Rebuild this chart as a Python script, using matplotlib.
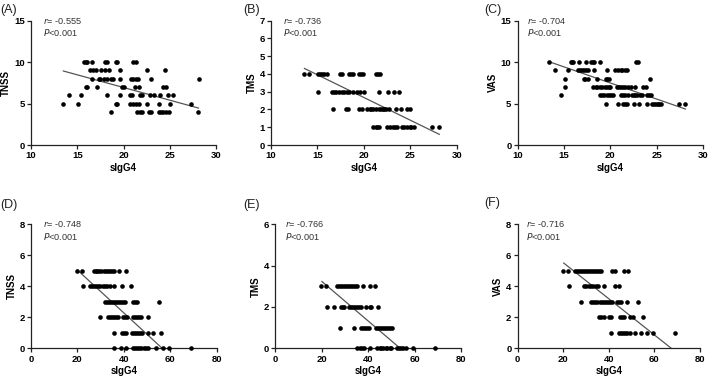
import numpy as np
import matplotlib
matplotlib.use('Agg')
import matplotlib.pyplot as plt

plt.rcParams['font.family'] = ['Liberation Sans', 'DejaVu Sans']

# top row: sIgG4 10-30, bottom row: sIgG4 0-80
# points grouped by score level (x values)
a_levels = [10, 9, 8, 7, 6, 5, 4]
a_x = [[15.7, 15.95, 16.1, 16.6, 18.0, 18.2, 19.15, 19.3, 21.06, 21.3],
       [16.4, 16.7, 17.0, 17.6, 18.0, 18.4, 19.6, 22.5, 24.45],
       [16.6, 17.3, 17.5, 17.9, 18.2, 18.6, 18.9, 19.6, 20.8, 21.06, 21.3, 21.6, 23.0, 28.2],
       [15.9, 16.1, 17.1, 19.8, 20.1, 21.2, 21.7, 24.3, 24.6],
       [14.1, 15.4, 18.25, 19.6, 20.7, 20.9, 21.8, 22.0, 22.9, 23.3, 23.9, 24.8, 25.3],
       [13.5, 15.1, 19.15, 19.3, 20.7, 21.06, 21.3, 21.7, 22.5, 23.8, 25.0, 27.3],
       [18.7, 21.5, 21.75, 22.0, 22.8, 23.0, 23.8, 24.0, 24.3, 24.6, 24.95, 28.1]]
a_fit_x = [13.5, 28.1]
a_fit_y = [8.93, 4.46]

b_levels = [4, 3, 2, 1]
b_x = [[13.5, 14.1, 15.05, 15.3, 15.5, 15.7, 15.99, 17.4, 17.6, 18.35, 18.6, 18.8, 19.5, 19.7, 19.9, 21.3, 21.5, 21.7],
       [15.1, 16.6, 16.8, 17.0, 17.35, 17.6, 17.9, 18.2, 18.4, 18.85, 19.25, 19.6, 20.0, 21.65, 22.6, 23.2, 23.8],
       [16.7, 18.05, 18.25, 19.5, 19.8, 20.3, 20.6, 20.8, 21.0, 21.3, 21.6, 21.8, 22.0, 22.2, 22.4, 22.7, 23.4, 24.0, 24.6, 24.9],
       [21.0, 21.25, 21.45, 21.65, 22.5, 22.8, 23.1, 23.3, 23.6, 24.05, 24.3, 24.6, 24.9, 25.1, 25.4, 27.3, 28.1]]
b_fit_x = [13.6, 28.1]
b_fit_y = [4.31, 0.6]

c_levels = [10, 9, 8, 7, 6, 5]
c_x = [[13.4, 15.7, 15.85, 16.0, 16.6, 17.4, 17.95, 18.1, 18.25, 18.85, 22.8, 22.95],
       [14.0, 15.4, 16.5, 16.7, 16.9, 17.2, 17.4, 17.6, 18.25, 19.6, 20.5, 20.8, 21.1, 21.3, 21.6, 21.8],
       [15.05, 17.1, 17.3, 17.6, 18.6, 19.5, 19.6, 19.9, 24.3],
       [15.1, 18.1, 18.4, 18.6, 18.9, 19.1, 19.4, 19.6, 19.8, 20.0, 20.7, 20.9, 21.1, 21.4, 21.6, 21.9, 22.2, 22.7, 23.5, 23.8],
       [14.7, 18.85, 19.1, 19.35, 19.6, 19.8, 20.1, 20.3, 21.2, 21.4, 21.6, 21.9, 22.3, 22.5, 22.7, 22.9, 23.2, 23.4, 23.99, 24.2, 24.4],
       [19.5, 20.8, 21.4, 21.6, 21.8, 22.5, 23.1, 24.0, 24.5, 24.7, 24.9, 25.1, 25.3, 25.5, 27.4, 28.1]]
c_fit_x = [13.6, 28.1]
c_fit_y = [9.97, 4.34]

d_levels = [5, 4, 3, 2, 1, 0]
d_x = [[19.9, 21.9, 27.0, 27.9, 28.6, 29.3, 30.3, 31.3, 32.2, 33.0, 33.9, 34.8, 35.6, 37.8, 40.9],
       [22.5, 25.3, 26.2, 27.0, 27.9, 29.0, 29.9, 30.8, 31.8, 32.8, 33.9, 35.8, 39.2, 43.2],
       [31.9, 32.8, 33.6, 34.5, 35.3, 36.2, 37.1, 37.9, 38.8, 39.6, 40.5, 44.1, 44.9, 45.6, 55.1],
       [29.6, 33.2, 34.2, 35.0, 35.9, 36.8, 37.6, 39.6, 40.5, 41.3, 43.9, 44.8, 45.6, 46.5, 47.4, 50.5],
       [35.8, 39.3, 40.2, 41.1, 43.5, 44.3, 45.4, 46.2, 47.1, 47.9, 50.4, 52.5, 56.2],
       [35.8, 38.6, 40.9, 43.9, 44.8, 45.6, 46.6, 47.5, 48.8, 49.6, 50.5, 53.9, 56.7, 59.4, 69.0]]
d_fit_x = [20.0, 56.5]
d_fit_y = [5.05, 0.0]

e_levels = [3, 2, 1, 0]
e_x = [[19.8, 21.8, 26.5, 27.4, 28.2, 29.1, 30.0, 30.8, 31.7, 32.5, 33.4, 34.3, 35.1, 37.6, 41.0, 43.0],
       [22.2, 25.2, 28.1, 29.0, 29.8, 31.8, 32.7, 33.5, 34.4, 35.3, 36.1, 37.0, 39.0, 40.7, 41.3, 44.2],
       [28.0, 34.1, 37.0, 37.8, 38.7, 39.6, 40.4, 43.3, 44.2, 45.0, 45.9, 46.7, 47.6, 48.5, 49.3, 50.2],
       [35.4, 36.4, 37.3, 38.4, 40.7, 44.0, 44.9, 45.7, 46.6, 47.5, 48.3, 49.2, 50.0, 52.6, 53.3, 54.2, 55.1, 56.5, 59.4, 68.8]]
e_fit_x = [20.1, 53.8]
e_fit_y = [3.23, 0.0]

f_levels = [5, 4, 3, 2, 1]
f_x = [[20.0, 22.1, 25.3, 26.2, 27.0, 27.9, 28.8, 29.7, 30.6, 31.4, 32.3, 33.2, 34.1, 34.9, 35.8, 36.7, 41.4, 42.8, 46.5, 48.2],
       [22.4, 29.1, 30.1, 31.1, 32.2, 33.2, 34.2, 35.2, 37.7, 42.8, 44.3],
       [27.9, 32.2, 33.2, 34.1, 34.9, 36.0, 36.8, 37.7, 38.6, 39.5, 40.4, 41.4, 43.6, 44.4, 45.3, 48.0, 52.6],
       [35.5, 36.4, 37.7, 40.2, 41.1, 45.0, 45.9, 46.8, 49.4, 50.4, 54.8],
       [41.1, 44.3, 45.2, 46.1, 47.0, 48.1, 49.3, 51.3, 53.9, 56.6, 59.4, 69.0]]
f_fit_x = [20.2, 67.4]
f_fit_y = [5.5, 0.0]


def panel(rect, levels, xs, fit_x, fit_y, ylabel, xlim, xticks, ylim, yticks, r, tx):
    ax = fig.add_axes(rect)
    px = []
    py = []
    for lv, row in zip(levels, xs):
        px += row
        py += [lv] * len(row)
    ax.scatter(px, py, s=11, color='black', linewidths=0, zorder=3, clip_on=False)
    ax.plot(fit_x, fit_y, color='#555555', lw=0.9, zorder=2)
    ax.set_xlim(xlim)
    ax.set_ylim(ylim)
    ax.set_xticks(xticks)
    ax.set_yticks(yticks)
    for s in ['top', 'right']:
        ax.spines[s].set_visible(False)
    for s in ['left', 'bottom']:
        ax.spines[s].set_linewidth(0.9)
        ax.spines[s].set_color('#222222')
    ax.tick_params(direction='out', length=3, width=0.9, color='#222222', pad=1.5,
                   labelsize=6.8)
    for lab in ax.get_xticklabels() + ax.get_yticklabels():
        lab.set_fontweight('bold')
    ax.set_xlabel('sIgG4', fontsize=7, fontweight='bold', labelpad=2)
    ax.set_ylabel(ylabel, fontsize=7, fontweight='bold', labelpad=2)
    ax.text(tx, 1.0, r'$\it{r}$= ' + r, transform=ax.transAxes, fontsize=6.6,
            color='#333333', va='center', ha='left')
    ax.text(tx, 0.905, r'$\it{P}$<0.001', transform=ax.transAxes, fontsize=6.6,
            color='#333333', va='center', ha='left')
    return ax


fig = plt.figure(figsize=(7.09, 3.82), dpi=100)

panel([0.0437, 0.6204, 0.261, 0.3254], a_levels, a_x, a_fit_x, a_fit_y, 'TNSS',
      (10, 30), [10, 15, 20, 25, 30], (0, 15), [0, 5, 10, 15], '-0.555', 0.063)
panel([0.3822, 0.6204, 0.2623, 0.3254], b_levels, b_x, b_fit_x, b_fit_y, 'TMS',
      (10, 30), [10, 15, 20, 25, 30], (0, 7), [0, 1, 2, 3, 4, 5, 6, 7], '-0.736', 0.063)
panel([0.7302, 0.6204, 0.2614, 0.3254], c_levels, c_x, c_fit_x, c_fit_y, 'VAS',
      (10, 30), [10, 15, 20, 25, 30], (0, 15), [0, 5, 10, 15], '-0.704', 0.05)
panel([0.0437, 0.0882, 0.262, 0.3246], d_levels, d_x, d_fit_x, d_fit_y, 'TNSS',
      (0, 80), [0, 20, 40, 60, 80], (0, 8), [0, 2, 4, 6, 8], '-0.748', 0.063)
panel([0.3883, 0.0882, 0.2619, 0.3246], e_levels, e_x, e_fit_x, e_fit_y, 'TMS',
      (0, 80), [0, 20, 40, 60, 80], (0, 6), [0, 2, 4, 6], '-0.766', 0.054)
panel([0.7302, 0.0882, 0.2571, 0.3246], f_levels, f_x, f_fit_x, f_fit_y, 'VAS',
      (0, 80), [0, 20, 40, 60, 80], (0, 8), [0, 2, 4, 6, 8], '-0.716', 0.047)

# panel letters
for lab, x, y in [('(A)', 0.0, 0.99), ('(B)', 0.343, 0.99), ('(C)', 0.683, 0.99),
                  ('(D)', 0.0, 0.48), ('(E)', 0.343, 0.48), ('(F)', 0.683, 0.483)]:
    fig.text(x, y, lab, fontsize=9, va='top', ha='left', color='#222222')

fig.savefig('out.png', dpi=100)
